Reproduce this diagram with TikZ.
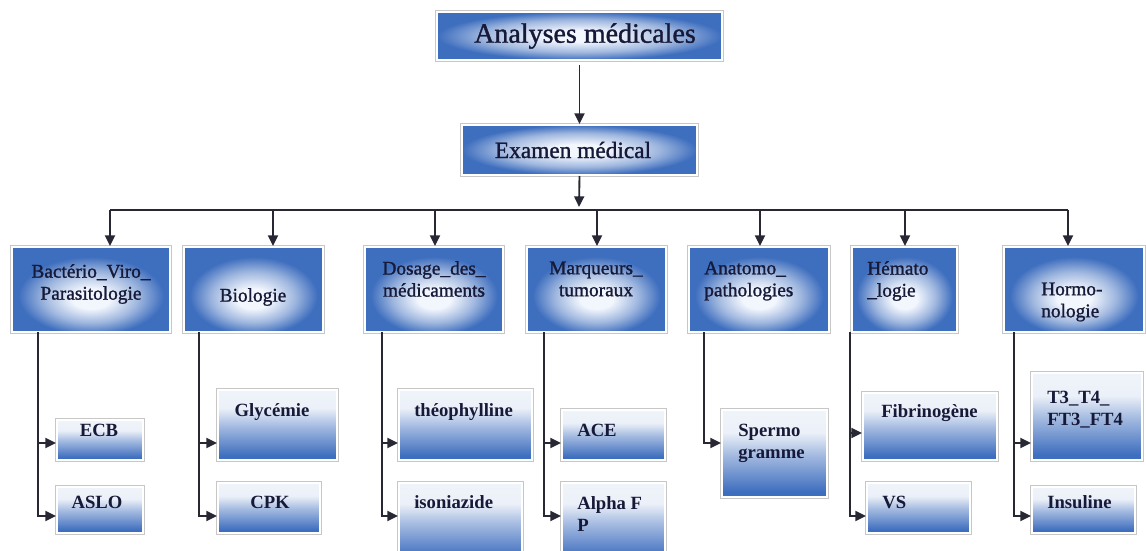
\documentclass[tikz,border=0pt]{standalone}
\usepackage{fontspec}
\setmainfont{Liberation Serif}
\newfontfamily\semib[FakeBold=1.2]{Liberation Serif}
\usetikzlibrary{arrows.meta,fit}
\definecolor{boxblue}{RGB}{62,110,190}
\definecolor{glow}{RGB}{242,246,253}
\definecolor{textc}{RGB}{22,25,55}
\definecolor{linec}{RGB}{40,40,52}
\pgfdeclareradialshading{topglow}{\pgfpoint{0bp}{0bp}}{color(0bp)=(glow); color(6bp)=(glow); color(17bp)=(boxblue!50!white); color(25bp)=(boxblue); color(60bp)=(boxblue)}
\pgfdeclareradialshading{catglow}{\pgfpoint{0bp}{-6bp}}{color(0bp)=(glow); color(6bp)=(glow); color(15bp)=(boxblue!50!white); color(23bp)=(boxblue); color(60bp)=(boxblue)}
\pgfdeclareverticalshading{kidsh}{100bp}{color(0bp)=(boxblue); color(28bp)=(boxblue); color(50bp)=(boxblue!45!white); color(62bp)=(white!90!boxblue); color(75bp)=(white!92!boxblue); color(100bp)=(white!92!boxblue)}
\tikzset{
  frame/.style={rectangle, inner sep=0pt, preaction={draw=black!22, line width=3pt}, draw=white, line width=1.5pt},
  topbox/.style={frame, shade, shading=topglow},
  catbox/.style={frame, shade, shading=catglow},
  kidbox/.style={frame, shade, shading=kidsh},
  conn/.style={draw=linec, line width=1.4pt},
  arr/.style={conn, -{Triangle[length=8pt,width=7.5pt]}},
  ttop/.style={inner sep=0pt, text=textc, font=\semib\fontsize{21}{24}\selectfont},
  texa/.style={inner sep=0pt, text=textc, font=\semib\fontsize{17.5}{20}\selectfont},
  tcat/.style={inner sep=0pt, text=textc, align=center, font=\semib\fontsize{14.5}{16.5}\selectfont},
  tcatl/.style={tcat, align=left, anchor=west},
  tkid/.style={inner sep=0pt, text=textc, align=center, font=\bfseries\fontsize{14}{16.5}\selectfont},
  tkidl/.style={tkid, align=left, anchor=west}
}
\begin{document}
\begin{tikzpicture}[x=0.75pt,y=-0.75pt]
\useasboundingbox (0,0) rectangle (1146,550);
\fill[white] (0,0) rectangle (1146,550);
% top boxes
\node[topbox, fit={(437,12) (722,60)}] (A) {};
\node[ttop] (At) at (585,36) {Analyses médicales};
\node[topbox, fit={(462,125) (697,175)}] (E) {};
\node[texa] (Et) at (573,150) {Examen médical};
% category boxes
\node[catbox, fit={(12,247) (170,332)}] (c1) {};
\node[catbox, fit={(184,247) (323,332)}] (c2) {};
\node[catbox, fit={(365,247) (503,332)}] (c3) {};
\node[catbox, fit={(527,247) (666,332)}] (c4) {};
\node[catbox, fit={(689,247) (829,332)}] (c5) {};
\node[catbox, fit={(852,247) (957,332)}] (c6) {};
\node[catbox, fit={(1004,247) (1144,332)}] (c7) {};
\node[tcat] (c1t) at (91,284) {Bactério\_Viro\_\\Parasitologie};
\node[tcat] (c2t) at (253,297) {Biologie};
\node[tcat] (c3t) at (434,279) {Dosage\_des\_\\médicaments};
\node[tcat] (c4t) at (596,279) {Marqueurs\_\\tumoraux};
\node[tcatl] (c5t) at (704,281) {Anatomo\_\\pathologies};
\node[tcatl] (c6t) at (867,281) {Hémato\\\_logie};
\node[tcatl] (c7t) at (1041,302) {Hormo-\\nologie};
% child boxes
\node[kidbox, fit={(57,420) (143,460)}] (k11) {};
\node[kidbox, fit={(57,487) (143,533)}] (k12) {};
\node[kidbox, fit={(218,390) (337,460)}] (k21) {};
\node[kidbox, fit={(218,483) (320,533)}] (k22) {};
\node[kidbox, fit={(399,390) (532,460)}] (k31) {};
\node[kidbox, fit={(399,483) (522,562)}] (k32) {};
\node[kidbox, fit={(562,410) (665,460)}] (k41) {};
\node[kidbox, fit={(562,483) (665,562)}] (k42) {};
\node[kidbox, fit={(722,410) (827,497)}] (k51) {};
\node[kidbox, fit={(863,393) (997,460)}] (k61) {};
\node[kidbox, fit={(867,483) (970,533)}] (k62) {};
\node[kidbox, fit={(1032,373) (1142,460)}] (k71) {};
\node[kidbox, fit={(1032,487) (1135,533)}] (k72) {};
\node[tkid] (k11t) at (99,430) {ECB};
\node[tkid] (k12t) at (97,502) {ASLO};
\node[tkid] (k21t) at (272,412) {Glycémie};
\node[tkid] (k22t) at (270,502) {CPK};
\node[tkidl] (k31t) at (414,412) {théophylline};
\node[tkidl] (k32t) at (414,502) {isoniazide};
\node[tkidl] (k41t) at (577,430) {ACE};
\node[tkidl] (k42t) at (577,514) {Alpha F\\P};
\node[tkidl] (k51t) at (738,443) {Spermo\\gramme};
\node[tkidl] (k61t) at (881,413) {Fibrinogène};
\node[tkidl] (k62t) at (882,502) {VS};
\node[tkidl] (k71t) at (1047,410) {T3\_T4\_\\FT3\_FT4};
\node[tkidl] (k72t) at (1047,502) {Insuline};
% connectors top
\draw[arr, shorten <=3pt] (A.south) -- (E.north);
\coordinate (bt) at (579,207);
\draw[arr] (E.south) -- (bt);
\coordinate (b1) at (110,210);
\coordinate (b2) at (273,210);
\coordinate (b3) at (435,210);
\coordinate (b4) at (597,210);
\coordinate (b5) at (760,210);
\coordinate (b6) at (905,210);
\coordinate (b7) at (1068,210);
\draw[conn] (b1) -- (b7);
\draw[arr] (b1) -- (b1 |- c1.north);
\draw[arr] (b2) -- (b2 |- c2.north);
\draw[arr] (b3) -- (b3 |- c3.north);
\draw[arr] (b4) -- (b4 |- c4.north);
\draw[arr] (b5) -- (b5 |- c5.north);
\draw[arr] (b6) -- (b6 |- c6.north);
\draw[arr] (b7) -- (b7 |- c7.north);
% child connectors
\coordinate (h0) at (0,433);
\coordinate (h1) at (0,443);
\coordinate (h2) at (0,516);
\coordinate (v1) at (38,332);
\coordinate (v2) at (199,332);
\coordinate (v3) at (382,332);
\coordinate (v4) at (544,332);
\coordinate (v5) at (704,332);
\coordinate (v6) at (850,332);
\coordinate (v7) at (1014,332);
\draw[arr] (v1) |- (k11.west |- h1);
\draw[arr] (v1) |- (k12.west |- h2);
\draw[arr] (v2) |- (k21.west |- h1);
\draw[arr] (v2) |- (k22.west |- h2);
\draw[arr] (v3) |- (k31.west |- h1);
\draw[arr] (v3) |- (k32.west |- h2);
\draw[arr] (v4) |- (k41.west |- h1);
\draw[arr] (v4) |- (k42.west |- h2);
\draw[arr] (v5) |- (k51.west |- h1);
\draw[arr] (v6) |- (k61.west |- h0);
\draw[arr] (v6) |- (k62.west |- h2);
\draw[arr] (v7) |- (k71.west |- h1);
\draw[arr] (v7) |- (k72.west |- h2);
\end{tikzpicture}
\end{document}
